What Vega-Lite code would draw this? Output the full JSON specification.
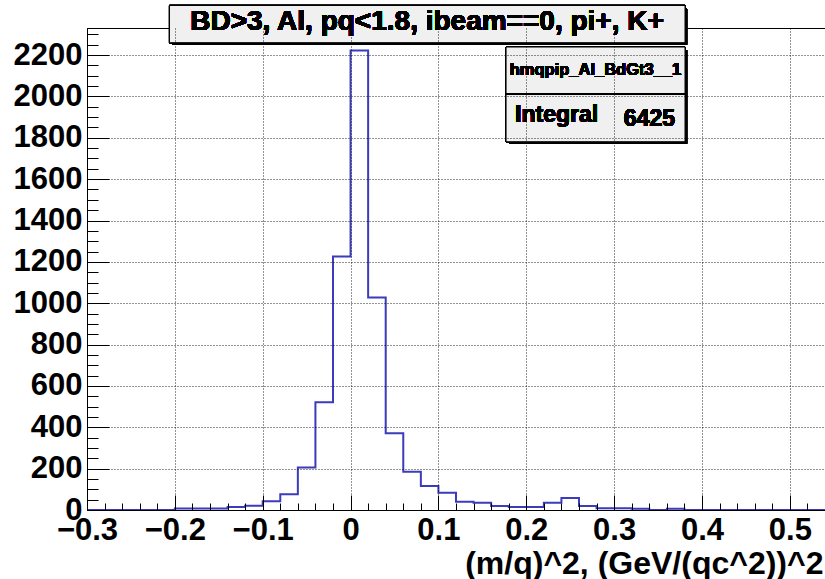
{
  "$schema": "https://vega.github.io/schema/vega-lite/v6.json",
  "width": 740,
  "height": 482,
  "padding": {"left": 87, "top": 28, "right": 0, "bottom": 69},
  "autosize": {"type": "none"},
  "background": "white",
  "config": {
    "view": {"stroke": "black", "strokeWidth": 1, "fill": "white"},
    "font": "Liberation Sans"
  },
  "data": {
    "values": [
      {"edge": -0.30, "count": 0},
      {"edge": -0.28, "count": 0},
      {"edge": -0.26, "count": 0},
      {"edge": -0.24, "count": 0},
      {"edge": -0.22, "count": 0},
      {"edge": -0.20, "count": 7},
      {"edge": -0.18, "count": 7},
      {"edge": -0.16, "count": 7},
      {"edge": -0.14, "count": 14},
      {"edge": -0.12, "count": 21},
      {"edge": -0.10, "count": 42},
      {"edge": -0.08, "count": 76},
      {"edge": -0.06, "count": 205},
      {"edge": -0.04, "count": 521},
      {"edge": -0.02, "count": 1226},
      {"edge": 0.00, "count": 2222},
      {"edge": 0.02, "count": 1028},
      {"edge": 0.04, "count": 371},
      {"edge": 0.06, "count": 185},
      {"edge": 0.08, "count": 116},
      {"edge": 0.10, "count": 84},
      {"edge": 0.12, "count": 40},
      {"edge": 0.14, "count": 35},
      {"edge": 0.16, "count": 19},
      {"edge": 0.18, "count": 15},
      {"edge": 0.20, "count": 15},
      {"edge": 0.22, "count": 35},
      {"edge": 0.24, "count": 58},
      {"edge": 0.26, "count": 19},
      {"edge": 0.28, "count": 8},
      {"edge": 0.30, "count": 8},
      {"edge": 0.32, "count": 6},
      {"edge": 0.34, "count": 0},
      {"edge": 0.36, "count": 6},
      {"edge": 0.38, "count": 0},
      {"edge": 0.40, "count": 0},
      {"edge": 0.42, "count": 0},
      {"edge": 0.44, "count": 0},
      {"edge": 0.46, "count": 0},
      {"edge": 0.48, "count": 0},
      {"edge": 0.50, "count": 0},
      {"edge": 0.52, "count": 0},
      {"edge": 0.54, "count": 0}
    ]
  },
  "resolve": {"axis": {"x": "independent", "y": "independent"}},
  "layer": [
    {
      "mark": {"type": "line", "interpolate": "step-after", "color": "#3b3bbb", "strokeWidth": 2},
      "encoding": {
        "x": {
          "field": "edge", "type": "quantitative",
          "scale": {"domain": [-0.3, 0.5423], "nice": false, "zero": false},
          "axis": {
            "orient": "bottom",
            "values": [-0.3, -0.2, -0.1, 0, 0.1, 0.2, 0.3, 0.4, 0.5],
            "labelExpr": "datum.value == 0 ? '0' : format(datum.value, '.1f')",
            "tickSize": -15, "tickColor": "black", "tickWidth": 1,
            "domainColor": "black", "domainWidth": 1,
            "labelFont": "Liberation Sans", "labelFontWeight": "bold", "labelFontSize": 31, "labelColor": "black",
            "labelPadding": 20, "labelFlush": false, "labelOverlap": false,
            "grid": true, "gridColor": "black", "gridDash": [1, 2], "gridWidth": 1, "gridOpacity": 0.85,
            "title": "(m/q)^2, (GeV/(qc^2))^2",
            "titleFont": "Liberation Sans", "titleFontWeight": "bold", "titleFontSize": 32, "titleColor": "black",
            "titleAnchor": "end", "titleAlign": "right", "titleBaseline": "alphabetic",
            "titleX": 736, "titleY": 63,
            "zindex": 1
          }
        },
        "y": {
          "field": "count", "type": "quantitative",
          "scale": {"domain": [0, 2331], "nice": false, "zero": true},
          "axis": {
            "orient": "left",
            "values": [0, 200, 400, 600, 800, 1000, 1200, 1400, 1600, 1800, 2000, 2200],
            "format": "d",
            "tickSize": -22, "tickColor": "black", "tickWidth": 1,
            "domainColor": "black", "domainWidth": 1,
            "labelFont": "Liberation Sans", "labelFontWeight": "bold", "labelFontSize": 31, "labelColor": "black",
            "labelPadding": 27, "labelOverlap": false, "labelFlush": false,
            "grid": true, "gridColor": "black", "gridDash": [1, 2], "gridWidth": 1, "gridOpacity": 0.85,
            "title": null,
            "zindex": 1
          }
        }
      }
    },
    {
      "mark": {"type": "line", "opacity": 0},
      "encoding": {
        "x": {
          "field": "edge", "type": "quantitative",
          "axis": {
            "orient": "bottom",
            "values": [-0.28, -0.26, -0.24, -0.22, -0.18, -0.16, -0.14, -0.12, -0.08, -0.06, -0.04, -0.02, 0.02, 0.04, 0.06, 0.08, 0.12, 0.14, 0.16, 0.18, 0.22, 0.24, 0.26, 0.28, 0.32, 0.34, 0.36, 0.38, 0.42, 0.44, 0.46, 0.48, 0.52, 0.54],
            "tickSize": -7, "tickColor": "black", "tickWidth": 1,
            "labels": false, "domain": false, "grid": false, "title": null, "zindex": 1
          }
        },
        "y": {
          "field": "count", "type": "quantitative",
          "axis": {
            "orient": "left",
            "values": [50, 100, 150, 250, 300, 350, 450, 500, 550, 650, 700, 750, 850, 900, 950, 1050, 1100, 1150, 1250, 1300, 1350, 1450, 1500, 1550, 1650, 1700, 1750, 1850, 1900, 1950, 2050, 2100, 2150, 2250, 2300],
            "tickSize": -11, "tickColor": "black", "tickWidth": 1,
            "labels": false, "domain": false, "grid": false, "title": null, "zindex": 1
          }
        }
      }
    },
    {
      "mark": {"type": "rect", "fill": "black"},
      "encoding": {
        "x": {"datum": -0.2027, "type": "quantitative", "axis": null},
        "x2": {"datum": 0.3830},
        "y": {"datum": 2425, "type": "quantitative", "axis": null},
        "y2": {"datum": 2250}
      }
    },
    {
      "mark": {"type": "rect", "fill": "#f0f0f0", "stroke": "black", "strokeWidth": 1},
      "encoding": {
        "x": {"datum": -0.2061, "type": "quantitative", "axis": null},
        "x2": {"datum": 0.3807},
        "y": {"datum": 2440, "type": "quantitative", "axis": null},
        "y2": {"datum": 2260}
      }
    },
    {
      "mark": {"type": "text", "font": "Liberation Sans", "fontWeight": "bold", "fontSize": 28, "color": "black", "align": "center", "baseline": "alphabetic"},
      "encoding": {
        "x": {"datum": 0.0870, "type": "quantitative", "axis": null},
        "y": {"datum": 2321, "type": "quantitative", "axis": null},
        "text": {"value": "BD>3, Al, pq<1.8, ibeam==0, pi+, K+"}
      }
    },
    {
      "mark": {"type": "rect", "fill": "black"},
      "encoding": {
        "x": {"datum": 0.1804, "type": "quantitative", "axis": null},
        "x2": {"datum": 0.3830},
        "y": {"datum": 2225, "type": "quantitative", "axis": null},
        "y2": {"datum": 1771}
      }
    },
    {
      "mark": {"type": "rect", "fill": "#f0f0f0", "stroke": "black", "strokeWidth": 1},
      "encoding": {
        "x": {"datum": 0.1770, "type": "quantitative", "axis": null},
        "x2": {"datum": 0.3807},
        "y": {"datum": 2239, "type": "quantitative", "axis": null},
        "y2": {"datum": 1781}
      }
    },
    {
      "mark": {"type": "rule", "stroke": "black", "strokeWidth": 1},
      "encoding": {
        "x": {"datum": 0.1770, "type": "quantitative", "axis": null},
        "x2": {"datum": 0.3807},
        "y": {"datum": 2012, "type": "quantitative", "axis": null}
      }
    },
    {
      "mark": {"type": "text", "font": "Liberation Sans", "fontWeight": "bold", "fontSize": 16.5, "color": "black", "align": "center", "baseline": "middle"},
      "encoding": {
        "x": {"datum": 0.2788, "type": "quantitative", "axis": null},
        "y": {"datum": 2128, "type": "quantitative", "axis": null},
        "text": {"value": "hmqpip_Al_BdGt3__1"}
      }
    },
    {
      "mark": {"type": "text", "font": "Liberation Sans", "fontWeight": "bold", "fontSize": 23, "color": "black", "align": "left", "baseline": "alphabetic"},
      "encoding": {
        "x": {"datum": 0.1872, "type": "quantitative", "axis": null},
        "y": {"datum": 1878, "type": "quantitative", "axis": null},
        "text": {"value": "Integral"}
      }
    },
    {
      "mark": {"type": "text", "font": "Liberation Sans", "fontWeight": "bold", "fontSize": 23, "color": "black", "align": "right", "baseline": "alphabetic"},
      "encoding": {
        "x": {"datum": 0.3693, "type": "quantitative", "axis": null},
        "y": {"datum": 1857, "type": "quantitative", "axis": null},
        "text": {"value": "6425"}
      }
    }
  ]
}
